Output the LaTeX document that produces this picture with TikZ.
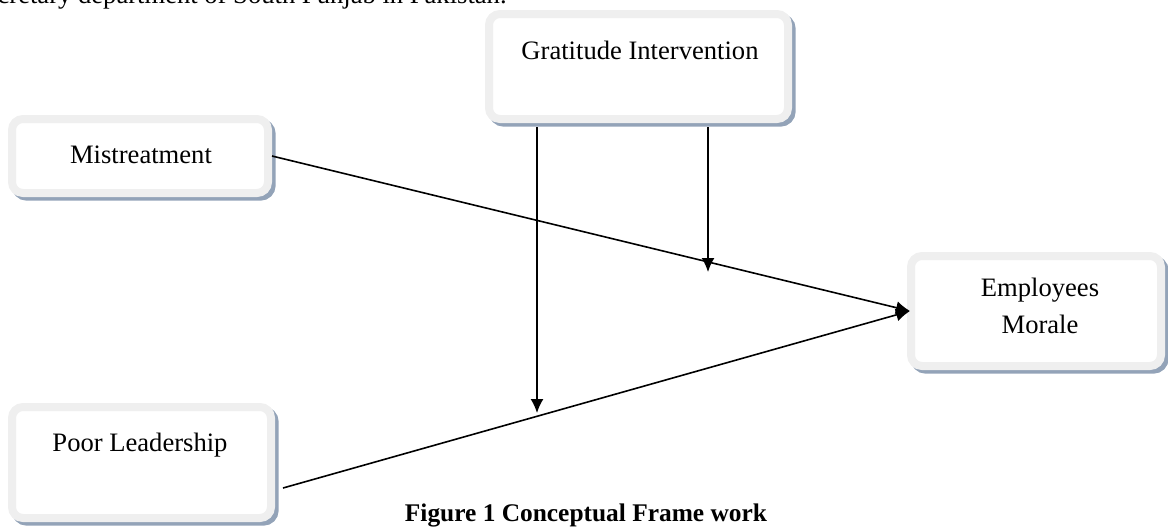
\documentclass[tikz,border=0pt]{standalone}
\usepackage{fontspec}
\setmainfont{Liberation Serif}
\usetikzlibrary{arrows.meta,shadows,calc}
\definecolor{boxborder}{HTML}{EFEFEF}
\definecolor{shadowc}{HTML}{93A3B8}
\tikzset{
  box/.style={draw=boxborder, line width=4pt, fill=white, rounded corners=5.5pt,
    inner sep=0pt,
    general shadow={draw=shadowc, fill=shadowc, line width=4pt, shadow xshift=1.8pt, shadow yshift=-1.8pt}},
  lbl/.style={font=\fontsize{13.3}{18.5}\selectfont, inner sep=0pt, align=center},
  conn/.style={line width=0.8pt, -{Latex[length=7pt,width=6.5pt]}}
}
\begin{document}
\begin{tikzpicture}[x=0.5pt,y=-0.5pt]
\useasboundingbox (0,0) rectangle (1168,527);
\clip (0,0) rectangle (1168,527);
% clipped running text at the top
\node[lbl, anchor=base east] (toptext) at (507,3) {secretary department of South Punjab in Pakistan.};
% boxes
\node[box, minimum width=149.5pt, minimum height=52.5pt] (gi) at (638.5,66.5) {};
\node[box, minimum width=128pt, minimum height=37pt] (mt) at (140,156) {};
\node[box, minimum width=125pt, minimum height=55pt] (em) at (1036,311) {};
\node[box, minimum width=129.5pt, minimum height=55.5pt] (pl) at (141.5,462.5) {};
% labels
\node[lbl] (git) at (640,50) {Gratitude Intervention};
\node[lbl] (mtt) at (141,155) {Mistreatment};
\node[lbl] (emt) at (1040,306) {Employees\\Morale};
\node[lbl] (plt) at (140,445) {Poor Leadership};
\node[lbl, font=\fontsize{12.7}{16}\selectfont\bfseries] (cap) at (586,515) {Figure 1 Conceptual Frame work};
% coordinates
\coordinate (plstart) at (283,488);
\coordinate (emin) at (910,311);
\coordinate (t1) at (537,413);
\coordinate (t2) at (708,272);
% connectors
\draw[conn] (mt.east) -- (emin);
\draw[conn] (plstart) -- (emin);
\draw[conn] ([yshift=-2pt]gi.south -| t1) -- (t1);
\draw[conn] ([yshift=-2pt]gi.south -| t2) -- (t2);
\end{tikzpicture}
\end{document}
